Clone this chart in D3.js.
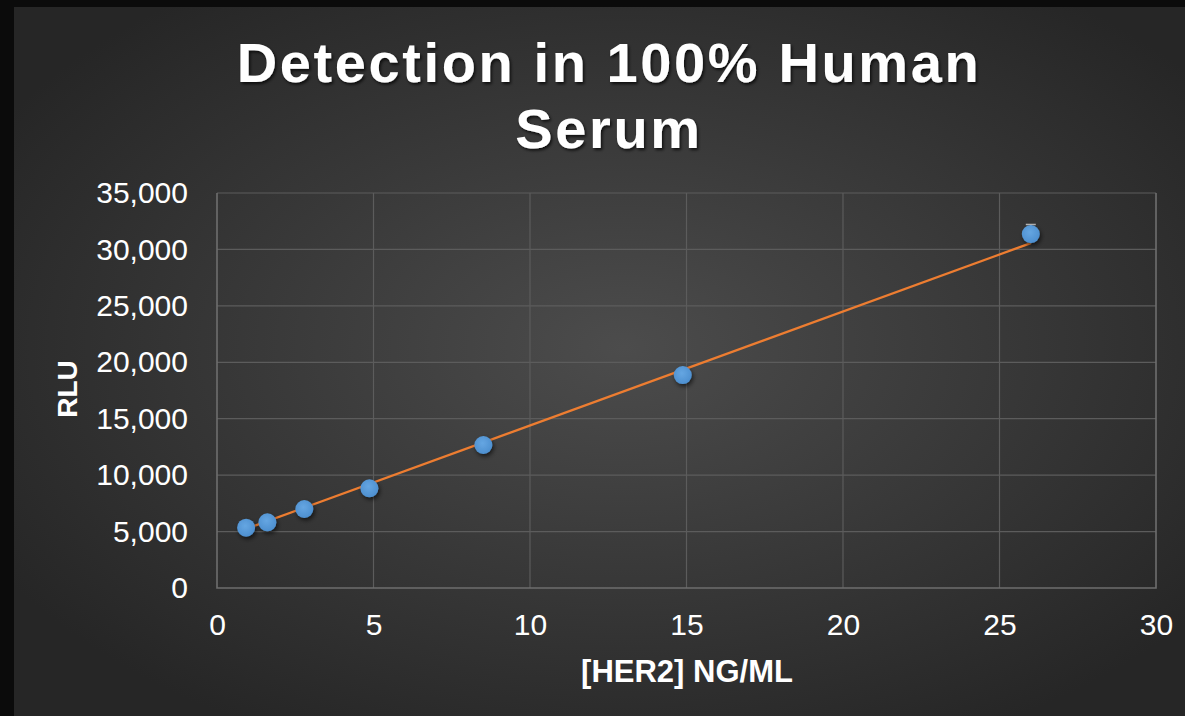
<!DOCTYPE html>
<html>
<head>
<meta charset="utf-8">
<script src="https://cdn.jsdelivr.net/npm/d3@7"></script>
<style>
  html, body { margin: 0; padding: 0; background: #0b0b0b; }
  svg { display: block; }
</style>
</head>
<body>
<div id="app"></div>
<script>
// values
const conc = [0.93, 1.61, 2.79, 4.87, 8.51, 14.88, 26.0];
const rlu = [5340, 5820, 7000, 8830, 12670, 18870, 31360];
const rluErr = [120, 120, 150, 180, 200, 250, 850];
const trendSlope = 1010;
const trendIntercept = 4300;
const xTicks = [0, 5, 10, 15, 20, 25, 30];
const yTicks = [0, 5000, 10000, 15000, 20000, 25000, 30000, 35000];
const titleLines = ["Detection in 100% Human", "Serum"];

const width = 1185, height = 716;
const margin = {top: 193, right: 29, bottom: 128, left: 217};

const x = d3.scaleLinear().domain([0, 30]).range([margin.left, width - margin.right]);
const y = d3.scaleLinear().domain([0, 35000]).range([height - margin.bottom, margin.top]);

const svg = d3.select("#app").append("svg")
    .attr("width", width)
    .attr("height", height)
    .attr("viewBox", [0, 0, width, height]);

const defs = svg.append("defs");
const bg = defs.append("radialGradient")
    .attr("id", "bg")
    .attr("cx", "52%").attr("cy", "48%").attr("r", "62%");
bg.append("stop").attr("offset", "0%").attr("stop-color", "#4c4c4c");
bg.append("stop").attr("offset", "100%").attr("stop-color", "#262626");

const shadow = defs.append("filter").attr("id", "shadow")
    .attr("x", "-50%").attr("y", "-50%").attr("width", "200%").attr("height", "200%");
shadow.append("feDropShadow")
    .attr("dx", 1.5).attr("dy", 2).attr("stdDeviation", 1.6)
    .attr("flood-color", "#000").attr("flood-opacity", 0.75);

const dotShadow = defs.append("filter").attr("id", "dotShadow")
    .attr("x", "-50%").attr("y", "-50%").attr("width", "200%").attr("height", "200%");
dotShadow.append("feDropShadow")
    .attr("dx", 1.5).attr("dy", 2.5).attr("stdDeviation", 2)
    .attr("flood-color", "#000").attr("flood-opacity", 0.6);

const dotFill = defs.append("radialGradient").attr("id", "dotFill")
    .attr("cx", "45%").attr("cy", "40%").attr("r", "60%");
dotFill.append("stop").attr("offset", "0%").attr("stop-color", "#65a6e2");
dotFill.append("stop").attr("offset", "100%").attr("stop-color", "#4d8fcf");

// frame + panel
svg.append("rect").attr("width", width).attr("height", height).attr("fill", "#0b0b0b");
svg.append("rect")
    .attr("x", 14).attr("y", 7)
    .attr("width", width - 14).attr("height", height - 7)
    .attr("fill", "url(#bg)");

// title
svg.append("text")
    .attr("x", 609)
    .attr("text-anchor", "middle")
    .attr("font-family", "Liberation Sans, Arial, sans-serif")
    .attr("font-weight", "bold")
    .attr("font-size", 56)
    .attr("letter-spacing", 2.6)
    .attr("fill", "#fff")
    .attr("filter", "url(#shadow)")
  .selectAll("tspan")
  .data(titleLines)
  .join("tspan")
    .attr("x", 609)
    .attr("y", (d, i) => 82 + i * 66)
    .text(d => d);

// gridlines
svg.append("g")
    .attr("stroke", "#5c5c5c")
    .attr("stroke-width", 1.2)
  .call(g => g.selectAll(".h")
    .data(yTicks.slice(1))
    .join("line")
      .attr("x1", x(0)).attr("x2", x(30))
      .attr("y1", d => y(d)).attr("y2", d => y(d)))
  .call(g => g.selectAll(".v")
    .data(xTicks.slice(1, -1))
    .join("line")
      .attr("y1", y(0)).attr("y2", y(35000))
      .attr("x1", d => x(d)).attr("x2", d => x(d)));

// plot frame: left, bottom, right
svg.append("path")
    .attr("fill", "none")
    .attr("stroke", "#6e6e6e")
    .attr("stroke-width", 1.6)
    .attr("d", `M${x(0)},${y(35000)}V${y(0)}H${x(30)}V${y(35000)}`);

// axes (labels only)
const tickFont = g => g
    .attr("font-family", "Liberation Sans, Arial, sans-serif")
    .attr("font-size", 30);

svg.append("g")
    .attr("transform", `translate(0,${y(0)})`)
    .call(d3.axisBottom(x).tickValues(xTicks).tickSize(0).tickPadding(26).tickFormat(d3.format("d")))
    .call(tickFont)
    .call(g => g.select(".domain").remove())
    .call(g => g.selectAll("text").attr("fill", "#fff"));

svg.append("g")
    .attr("transform", `translate(${x(0)},0)`)
    .call(d3.axisLeft(y).tickValues(yTicks).tickSize(0).tickPadding(29).tickFormat(d3.format(",")))
    .call(tickFont)
    .call(g => g.select(".domain").remove())
    .call(g => g.selectAll("text").attr("fill", "#fff"));

// axis titles
svg.append("text")
    .attr("x", 687).attr("y", 682)
    .attr("text-anchor", "middle")
    .attr("font-family", "Liberation Sans, Arial, sans-serif")
    .attr("font-weight", "bold")
    .attr("font-size", 31)
    .attr("fill", "#fff")
    .text("[HER2] NG/ML");

svg.append("text")
    .attr("transform", "translate(77,389) rotate(-90)")
    .attr("text-anchor", "middle")
    .attr("font-family", "Liberation Sans, Arial, sans-serif")
    .attr("font-weight", "bold")
    .attr("font-size", 28)
    .attr("fill", "#fff")
    .text("RLU");

// linear trendline
const trend = d3.line()
    .x(d => x(d))
    .y(d => y(trendIntercept + trendSlope * d));
svg.append("path")
    .attr("fill", "none")
    .attr("stroke", "#ed7d31")
    .attr("stroke-width", 2.2)
    .attr("d", trend(d3.extent(conc)));

const pts = conc.map((c, i) => ({x: c, y: rlu[i], e: rluErr[i]}));

// error bars
const err = svg.append("g")
    .attr("stroke", "#b5b5b5")
    .attr("stroke-width", 1.5);
err.selectAll("line.bar")
  .data(pts)
  .join("line")
    .attr("x1", d => x(d.x)).attr("x2", d => x(d.x))
    .attr("y1", d => y(d.y - d.e)).attr("y2", d => y(d.y + d.e));
err.selectAll("line.cap")
  .data(pts)
  .join("line")
    .attr("x1", d => x(d.x) - 5).attr("x2", d => x(d.x) + 5)
    .attr("y1", d => y(d.y + d.e)).attr("y2", d => y(d.y + d.e));

// markers
svg.append("g")
    .attr("filter", "url(#dotShadow)")
  .selectAll("circle")
  .data(pts)
  .join("circle")
    .attr("cx", d => x(d.x))
    .attr("cy", d => y(d.y))
    .attr("r", 9)
    .attr("fill", "url(#dotFill)");
</script>
</body>
</html>
